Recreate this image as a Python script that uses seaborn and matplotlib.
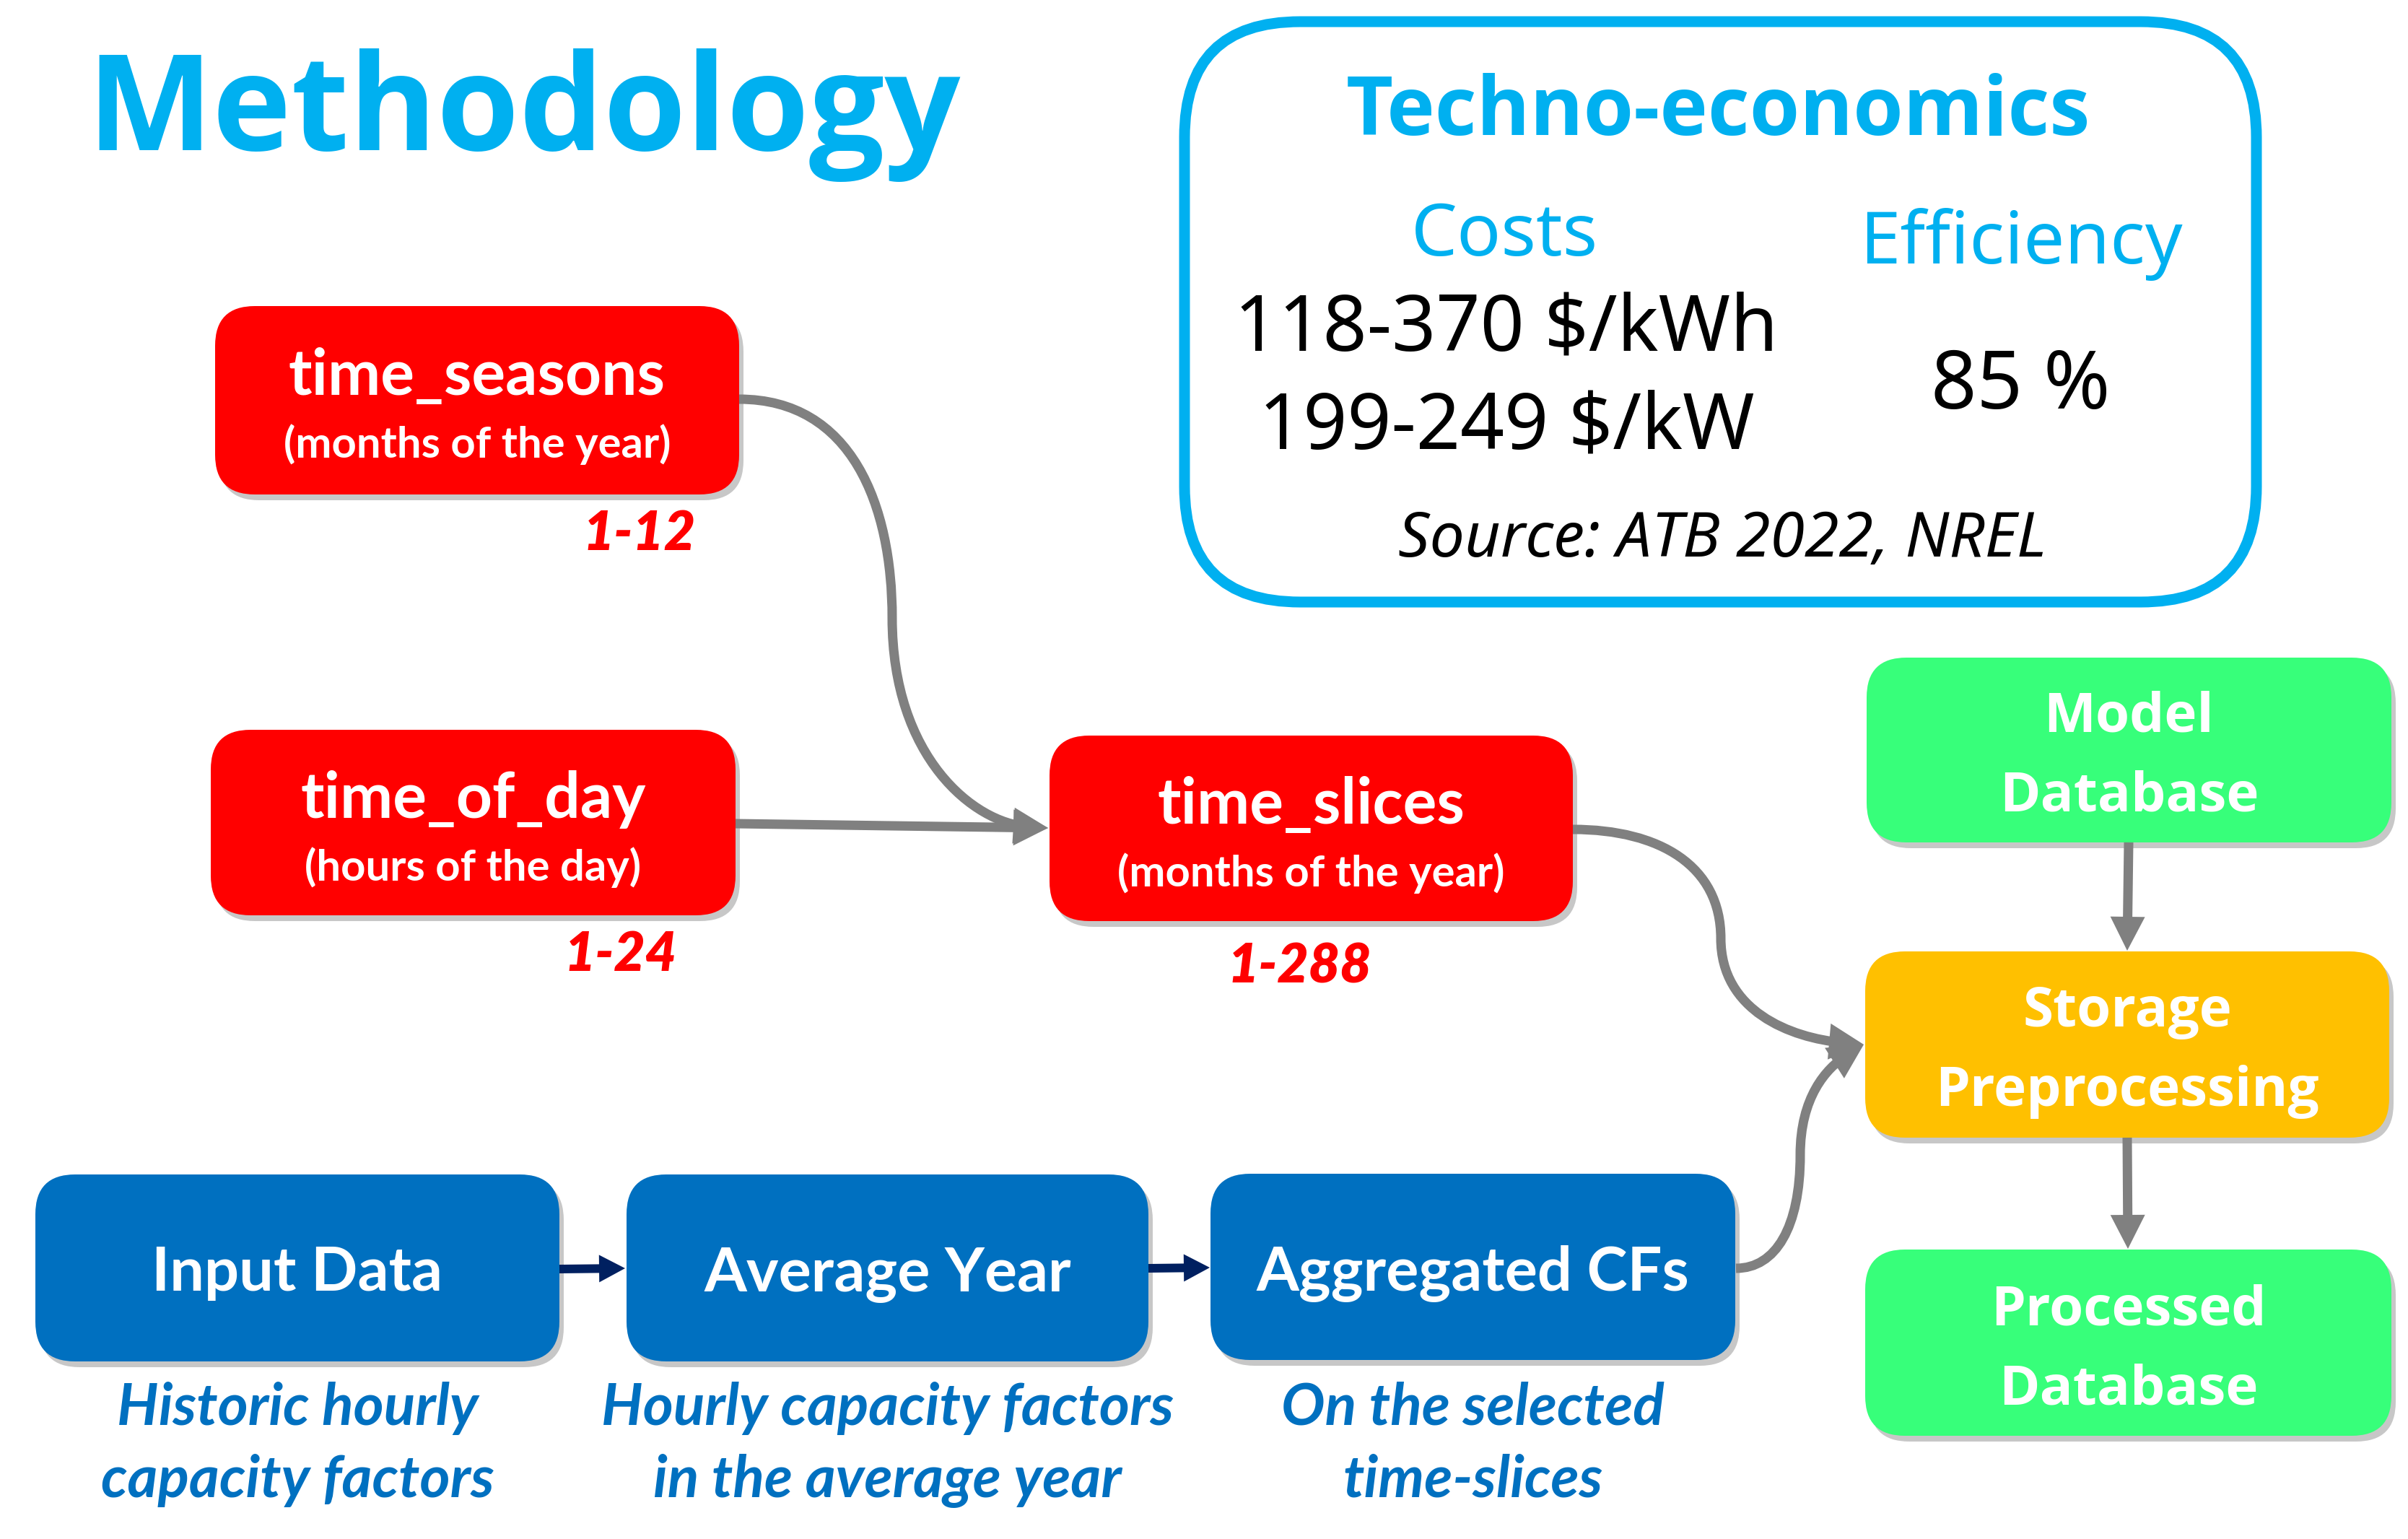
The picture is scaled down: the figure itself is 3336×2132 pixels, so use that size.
import numpy as np
import matplotlib
matplotlib.use("Agg")
import matplotlib.pyplot as plt
import seaborn as sns
from matplotlib.patches import FancyBboxPatch, PathPatch, FancyArrow
from matplotlib.path import Path

# ---- content ----
title = "Methodology"
techno_title = "Techno-economics"
costs_header = "Costs"
eff_header = "Efficiency"
cost_values = ["118-370 $/kWh", "199-249 $/kW"]
eff_value = "85 %"
source = "Source: ATB 2022, NREL"

red_titles = ["time_seasons", "time_of_day", "time_slices"]
red_subtitles = ["(months of the year)", "(hours of the day)", "(months of the year)"]
red_ranges = ["1-12", "1-24", "1-288"]

blue_titles = ["Input Data", "Average Year", "Aggregated CFs"]
blue_captions = [["Historic hourly", "capacity factors"],
                 ["Hourly capacity factors", "in the average year"],
                 ["On the selected", "time-slices"]]

right_titles = [["Model", "Database"], ["Storage", "Preprocessing"], ["Processed", "Database"]]

# ---- layout (pixel units, y down) ----
red_boxes = [(298, 424, 1024, 685), (292, 1011, 1019, 1268), (1454, 1019, 2179, 1276)]
red_range_pos = [(886, 762), (860, 1345), (1800, 1362)]
blue_boxes = [(49, 1627, 775, 1886), (868, 1627, 1591, 1886), (1677, 1626, 2404, 1884)]
right_boxes = [(2586, 911, 3313, 1167), (2584, 1318, 3310, 1576), (2584, 1731, 3313, 1989)]

CYAN = "#00B0F0"
RED = "#FF0000"
BLUE = "#0070C0"
NAVY = "#002060"
GRAY = "#808080"
GREEN = "#37FF7A"
YELLOW = "#FFC000"
right_colors = [GREEN, YELLOW, GREEN]

sns.set_theme(style="white")
plt.rcParams["font.family"] = ["Noto Sans", "DejaVu Sans"]
bold_sans = ["Open Sans", "DejaVu Sans"]
lato = ["Lato", "DejaVu Sans"]

W, H = 3337, 2132
fig = plt.figure(figsize=(W / 100, H / 100), dpi=100)
ax = fig.add_axes([0, 0, 1, 1])
ax.set_xlim(0, W)
ax.set_ylim(H, 0)
ax.axis("off")

PT = 0.72  # px -> pt at 100 dpi


def box(b, color, radius=55, shadow=True):
    x0, y0, x1, y1 = b
    if shadow:
        ax.add_patch(FancyBboxPatch((x0 + 6, y0 + 8), x1 - x0, y1 - y0,
                                    boxstyle=f"round,pad=0,rounding_size={radius}",
                                    fc="#000000", ec="none", alpha=0.22, zorder=1))
    ax.add_patch(FancyBboxPatch((x0, y0), x1 - x0, y1 - y0,
                                boxstyle=f"round,pad=0,rounding_size={radius}",
                                fc=color, ec="none", zorder=2))


def arrow(pts, color, lw_px, head_w, head_len):
    verts = [tuple(p) for p in pts]
    tip = np.array(verts[-1], float)
    prev = np.array(verts[-2], float)
    d = (tip - prev) / np.linalg.norm(tip - prev)
    verts[-1] = tuple(tip - d * head_len * 0.6)
    if len(verts) == 2:
        codes = [Path.MOVETO, Path.LINETO]
    else:
        codes = [Path.MOVETO] + [Path.CURVE4] * (len(verts) - 1)
    ax.add_patch(PathPatch(Path(verts, codes), fill=False, ec=color,
                           lw=lw_px * PT, capstyle="butt", zorder=3))
    base = tip - d * head_len
    ax.add_patch(FancyArrow(base[0], base[1], d[0] * head_len, d[1] * head_len,
                            width=0.1, head_width=head_w, head_length=head_len,
                            length_includes_head=True, fc=color, ec="none", lw=0, zorder=3))


# title
ax.text(120, 208, title, fontsize=133, fontweight="bold", color=CYAN,
        ha="left", va="baseline", family=bold_sans)

# techno-economics box
ax.add_patch(FancyBboxPatch((1641, 30), 3126 - 1641, 834 - 30,
                            boxstyle="round,pad=0,rounding_size=160",
                            fc="none", ec=CYAN, lw=15 * PT, zorder=2))
ax.text(2380, 187, techno_title, fontsize=81, fontweight="bold", color=CYAN,
        ha="center", va="baseline", family=bold_sans)
ax.text(2085, 354, costs_header, fontsize=73, color=CYAN, ha="center", va="baseline")
ax.text(2800, 365, eff_header, fontsize=73, color=CYAN, ha="center", va="baseline")
for v, yb in zip(cost_values, [486, 622]):
    ax.text(2087, yb, v, fontsize=77, color="black", ha="center", va="baseline")
ax.text(2799, 566, eff_value, fontsize=80, color="black", ha="center", va="baseline")
ax.text(2386, 771, source, fontsize=62, style="italic", color="black", ha="center", va="baseline")

# connectors
arrow([(1024, 553), (1180, 553), (1236, 700), (1236, 856),
       (1236, 1050), (1350, 1140), (1452, 1147)], GRAY, 13, 50, 48)
arrow([(1019, 1141), (1452, 1147)], GRAY, 13, 50, 48)
arrow([(2179, 1149), (2300, 1149), (2384, 1200), (2384, 1300),
       (2384, 1400), (2480, 1438), (2582, 1447)], GRAY, 13, 50, 48)
arrow([(2405, 1757), (2460, 1757), (2494, 1700), (2494, 1600),
       (2494, 1520), (2530, 1480), (2582, 1447)], GRAY, 13, 50, 48)
arrow([(2949, 1167), (2947, 1317)], GRAY, 13, 48, 47)
arrow([(2947, 1576), (2948, 1730)], GRAY, 13, 48, 47)
arrow([(775, 1758), (866, 1757)], NAVY, 12, 38, 36)
arrow([(1591, 1757), (1676, 1756)], NAVY, 12, 38, 36)

# red boxes
for b, t, s, r, rp in zip(red_boxes, red_titles, red_subtitles, red_ranges, red_range_pos):
    box(b, RED)
    cx, cy = (b[0] + b[2]) / 2, (b[1] + b[3]) / 2
    ax.text(cx, cy - 7, t, fontsize=63, fontweight="bold", color="white",
            ha="center", va="baseline", family=lato, zorder=4)
    ax.text(cx, cy + 80, s, fontsize=43, fontweight="bold", color="white",
            ha="center", va="baseline", family=lato, zorder=4)
    ax.text(rp[0], rp[1], r, fontsize=54, fontweight="heavy", style="italic",
            color=RED, ha="center", va="baseline", family=lato, zorder=4)

# blue boxes
for b, t, cap in zip(blue_boxes, blue_titles, blue_captions):
    box(b, BLUE)
    cx, cy = (b[0] + b[2]) / 2, (b[1] + b[3]) / 2
    ax.text(cx, cy + 32, t, fontsize=61, fontweight="bold", color="white",
            ha="center", va="baseline", family=lato, zorder=4)
    for line, yb in zip(cap, [1974, 2074]):
        ax.text(cx, yb, line, fontsize=58, fontweight="bold", style="italic",
                color=BLUE, ha="center", va="baseline", family=lato, zorder=4)

# right column
for b, lines, c in zip(right_boxes, right_titles, right_colors):
    box(b, c)
    cx, cy = (b[0] + b[2]) / 2, (b[1] + b[3]) / 2
    ax.text(cx, cy - 25, lines[0], fontsize=55, fontweight="bold", color="white",
            ha="center", va="baseline", family=bold_sans, zorder=4)
    ax.text(cx, cy + 85, lines[1], fontsize=55, fontweight="bold", color="white",
            ha="center", va="baseline", family=bold_sans, zorder=4)

fig.savefig("out.png", dpi=100, facecolor="white")
